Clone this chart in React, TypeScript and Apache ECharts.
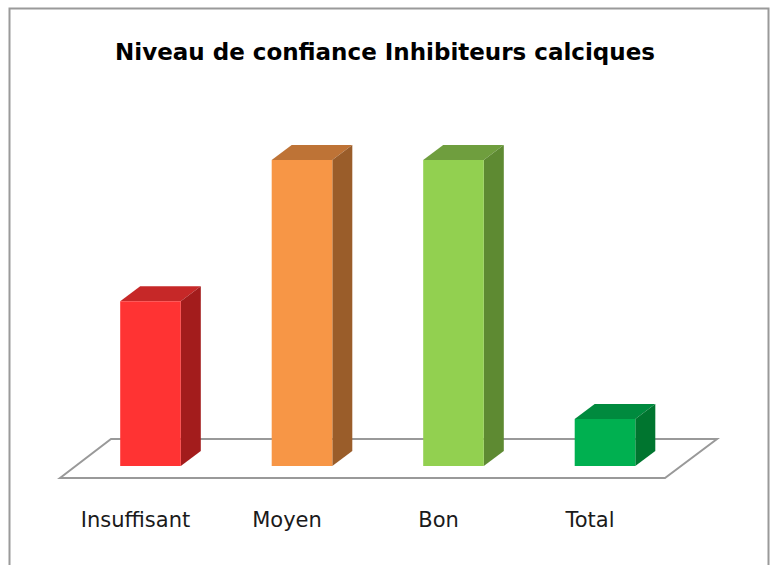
import React, { useEffect, useRef } from "react";
import * as echarts from "echarts";

const categories = ["Insuffisant", "Moyen", "Bon", "Total"];
const values = [7, 13, 13, 2];
const frontColors = ["#FF3333", "#F79646", "#92D050", "#00B050"];
const topColors = ["#C62828", "#BE7336", "#6F9E3E", "#008A3E"];
const sideColors = ["#A31C1C", "#9A5D2A", "#5E8A32", "#00752F"];

export default function App() {
  const ref = useRef<HTMLDivElement>(null);
  useEffect(() => {
    document.body.style.margin = "0";
    const chart = echarts.init(ref.current!, null, { renderer: "svg" });
    chart.setOption({
      animation: false,
      backgroundColor: "#fff",
      title: {
        text: "Niveau de confiance Inhibiteurs calciques",
        left: "center",
        top: 35,
        padding: [5, 0, 5, 8],
        textStyle: { fontFamily: "DejaVu Sans", fontWeight: "bold", fontSize: 23, color: "#000" },
      },
      grid: { left: 74.75, width: 606, top: 160, height: 306 },
      xAxis: {
        type: "category",
        data: categories,
        axisLine: { show: false },
        axisTick: { show: false },
        axisLabel: {
          margin: 42,
          fontFamily: "DejaVu Sans",
          fontSize: 21,
          lineHeight: 24,
          color: "#1a1a1a",
          padding: [0, 30, 0, 0],
        },
      },
      yAxis: { type: "value", min: 0, max: 13, show: false, splitLine: { show: false } },
      graphic: [
        {
          type: "rect",
          z: -10,
          shape: { x: 9.5, y: 8.5, width: 759, height: 620 },
          style: { fill: "none", stroke: "#9a9a9a", lineWidth: 2 },
        },
        {
          type: "polygon",
          z: -5,
          shape: { points: [[60, 478], [111, 439], [717, 439], [665, 478]] },
          style: { fill: "#fff", stroke: "#999", lineWidth: 2 },
        },
      ],
      series: [
        {
          type: "custom",
          z: 10,
          data: values.map((v, i) => [i, v]),
          renderItem: (params: any, api: any) => {
            const idx = api.value(0);
            const val = api.value(1);
            const top = api.coord([idx, val]);
            const base = api.coord([idx, 0]);
            const band = api.size([1, 0])[0];
            const w = band * 0.4;
            const dx = w * 0.33;
            const dy = dx * 0.75;
            const x0 = top[0] - w / 2;
            const x1 = top[0] + w / 2;
            const yt = top[1];
            const yb = base[1];
            return {
              type: "group",
              children: [
                {
                  type: "polygon",
                  shape: { points: [[x0, yt], [x0 + dx, yt - dy], [x1 + dx, yt - dy], [x1, yt]] },
                  style: { fill: topColors[idx] },
                },
                {
                  type: "polygon",
                  shape: { points: [[x1, yt], [x1 + dx, yt - dy], [x1 + dx, yb - dy], [x1, yb]] },
                  style: { fill: sideColors[idx] },
                },
                {
                  type: "rect",
                  shape: { x: x0, y: yt, width: w, height: yb - yt },
                  style: { fill: frontColors[idx] },
                },
              ],
            };
          },
        },
      ],
    });
    return () => chart.dispose();
  }, []);
  return <div ref={ref} style={{ position: "fixed", left: 0, top: 0, width: 770, height: 565 }} />;
}
